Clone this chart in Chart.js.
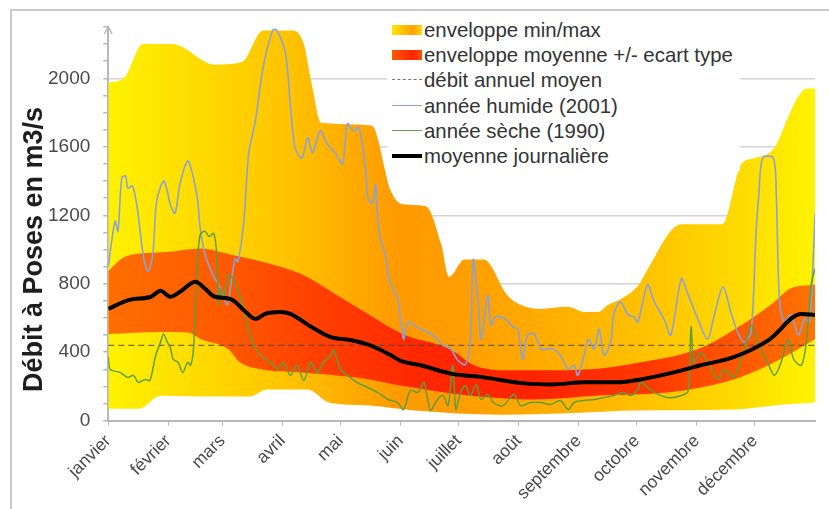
<!DOCTYPE html>
<html lang="fr">
<head>
<meta charset="utf-8">
<title>Débit à Poses</title>
<script src="https://cdn.jsdelivr.net/npm/chart.js@4.4.1/dist/chart.umd.min.js"></script>
<style>
  html, body { margin: 0; padding: 0; background: #fff; }
  #wrap { position: relative; width: 829px; height: 509px; overflow: hidden; font-family: "Liberation Sans", Arial, sans-serif; }
  #frame { position: absolute; left: 10px; top: 9px; width: 900px; height: 600px; border-left: 2px solid #cacaca; border-top: 2px solid #cacaca; }
  canvas { position: absolute; left: 0; top: 0; }
  #legend { position: absolute; left: 387px; top: 18px; width: 353px; height: 153px; background: #fff; }
  .row { position: relative; height: 25.2px; line-height: 25.2px; font-size: 20.4px; color: #333; padding-left: 37px; white-space: nowrap; }
  .sw { position: absolute; left: 5px; width: 30px; }
  .fill { top: 7px; height: 10px; }
  .line { top: 11px; height: 0; }
</style>
</head>
<body>
<div id="wrap">
  <div id="frame"></div>
  <canvas id="chart" width="829" height="509"></canvas>
  <div id="legend">
    <div class="row"><span class="sw fill" style="background: linear-gradient(to right, #ffe600, #ffa000 70%, #ffd800);"></span>enveloppe min/max</div>
    <div class="row"><span class="sw fill" style="background: linear-gradient(to right, #ff5a00, #ff2400 70%, #ff5000);"></span>enveloppe moyenne +/- ecart type</div>
    <div class="row"><span class="sw line" style="border-top: 1.5px dashed #777;"></span>débit annuel moyen</div>
    <div class="row"><span class="sw line" style="border-top: 1.5px solid #8aa2d8;"></span>année humide (2001)</div>
    <div class="row"><span class="sw line" style="border-top: 1.5px solid #6aa64a;"></span>année sèche (1990)</div>
    <div class="row"><span class="sw line" style="top: 10px; border-top: 4px solid #000;"></span>moyenne journalière</div>
  </div>
</div>
<script>
const monthNames = ['janvier', 'février', 'mars', 'avril', 'mai', 'juin', 'juillet', 'août', 'septembre', 'octobre', 'novembre', 'décembre'];
const monthStarts = [0, 31, 59, 90, 120, 151, 181, 212, 243, 273, 304, 334, 365];
const yTitle = 'Débit à Poses en m3/s';
const annualMean = 440;

// enveloppe min/max (jour de l'année -> m3/s)
const maxDays = [0, 8, 18, 33, 55, 69, 80, 95, 101, 105, 110, 136, 146, 152, 164, 172, 176, 184, 194, 206, 212, 223, 237, 246, 253, 258, 265, 274, 277, 296, 317, 327, 334, 344, 351, 356, 361, 365];
const maxVals = [1975, 2000, 2200, 2200, 2080, 2095, 2280, 2280, 2200, 1970, 1740, 1725, 1340, 1265, 1253, 1030, 841, 941, 941, 735, 682, 653, 665, 635, 635, 676, 712, 794, 853, 1147, 1147, 1500, 1535, 1594, 1770, 1888, 1941, 1941];
const minDays = [0, 16, 27, 47, 73, 82, 103, 114, 135, 158, 203, 244, 272, 323, 349, 365];
const minVals = [70, 70, 145, 141, 141, 182, 182, 106, 88, 59, 35, 47, 59, 65, 94, 106];

// moyenne +/- ecart type
const sdHighDays = [0, 9, 30, 48, 63, 89, 100, 118, 135, 152, 177, 189, 206, 223, 249, 275, 305, 325, 344, 352, 365];
const sdHighVals = [875, 959, 985, 1006, 971, 900, 855, 735, 618, 506, 415, 324, 294, 294, 300, 341, 420, 545, 694, 771, 794];
const sdLowDays = [0, 27, 41, 48, 62, 68, 79, 100, 117, 135, 151, 186, 220, 254, 289, 306, 323, 341, 365];
const sdLowVals = [506, 518, 515, 476, 418, 341, 300, 282, 265, 241, 205, 147, 124, 147, 165, 194, 241, 324, 476];

// moyenne journalière
const meanDays = [0, 11, 22, 27, 32, 37, 45, 50, 55, 63, 71, 76, 81, 89, 94, 105, 115, 125, 135, 146, 151, 161, 177, 194, 215, 229, 246, 263, 275, 292, 306, 323, 341, 358, 365];
const meanVals = [653, 706, 724, 759, 724, 753, 812, 771, 724, 712, 635, 594, 624, 635, 624, 547, 488, 471, 441, 382, 350, 325, 275, 253, 218, 212, 224, 224, 241, 282, 324, 371, 471, 624, 618];

// année humide (2001)
const wetDays = [0, 3.5, 5, 7, 9, 10, 12.5, 15, 18, 20.5, 23, 25, 28.5, 30.5, 32, 34.5, 37, 41, 43.5, 46, 47.5, 50, 54, 58, 61.5, 63, 65.5, 67, 70, 72.5, 76, 80, 85, 87, 91.5, 94, 96.5, 100, 103, 105.5, 109.5, 113, 117.5, 121, 123.5, 126.5, 129.5, 133, 134, 136.5, 138, 139, 140.5, 143, 145, 147, 149.5, 152.5, 154.5, 157.5, 161.5, 165, 170, 172, 177, 180.5, 184.5, 187, 188.5, 191, 192.5, 196, 197.5, 200, 203, 206, 209, 211.5, 214, 216.5, 220, 223.5, 227, 230, 233.5, 237.5, 240.5, 242.5, 245.5, 248, 251, 253.5, 256, 259.5, 261, 264.5, 268.5, 271.5, 273.5, 278.5, 282, 287, 290.5, 296, 299.5, 304.5, 309.5, 313, 317.5, 321.5, 325, 328.5, 332, 334.5, 336, 338, 343.5, 345, 346.5, 349, 352.5, 356.5, 359.5, 362, 364, 365];
const wetVals = [900, 1165, 1106, 1418, 1429, 1359, 1371, 1241, 971, 871, 971, 1282, 1400, 1341, 1265, 1212, 1382, 1518, 1441, 1300, 1124, 971, 853, 771, 676, 771, 947, 929, 1165, 1559, 1753, 2065, 2282, 2282, 2147, 1853, 1594, 1535, 1653, 1565, 1694, 1618, 1559, 1500, 1735, 1694, 1712, 1459, 1300, 1271, 1382, 1206, 1065, 971, 829, 771, 712, 476, 576, 559, 535, 518, 476, 447, 418, 353, 329, 459, 941, 694, 476, 735, 559, 606, 606, 588, 547, 535, 359, 500, 506, 418, 418, 418, 382, 300, 324, 265, 371, 476, 418, 535, 382, 459, 618, 694, 618, 606, 576, 794, 694, 594, 500, 829, 735, 594, 476, 618, 782, 635, 518, 459, 518, 1088, 1324, 1535, 1535, 1324, 735, 576, 618, 500, 594, 576, 929, 1206];

// année sèche (1990)
const dryDays = [0, 1, 6, 10, 13, 15.5, 19, 21.5, 24.5, 27, 28.5, 30.5, 32, 33.5, 36, 38.5, 41, 42.5, 44, 46, 47.5, 50, 52, 54.5, 56, 57, 58, 59.5, 62, 64.5, 66.5, 69.5, 72, 73.5, 75, 78.5, 82, 85, 87.5, 90.5, 94, 97.5, 101, 104.5, 108, 111, 115, 116.5, 120, 123.5, 128.5, 134, 139, 144.5, 149.5, 152.5, 156, 160, 163, 165, 166.5, 170, 173, 175.5, 178, 179.5, 182, 184.5, 187, 190, 192.5, 196, 199, 204, 209.5, 213, 218, 223.5, 228.5, 233.5, 237.5, 240.5, 245.5, 251, 256, 261, 266, 270, 273.5, 275, 282, 289, 296, 299.5, 301, 302.5, 306, 309.5, 315, 318, 323, 328.5, 332, 335.5, 340.5, 344, 347.5, 351, 354, 358, 360.5, 363, 365];
const dryVals = [371, 300, 282, 253, 265, 224, 241, 235, 382, 459, 506, 459, 429, 359, 341, 282, 341, 324, 418, 912, 1088, 1106, 1076, 1094, 971, 676, 771, 712, 853, 829, 771, 676, 535, 500, 441, 382, 353, 329, 300, 341, 265, 324, 235, 341, 282, 341, 382, 412, 300, 265, 224, 194, 165, 124, 106, 65, 176, 165, 224, 124, 59, 124, 147, 88, 324, 65, 165, 206, 147, 212, 124, 153, 106, 88, 153, 88, 106, 106, 94, 118, 65, 106, 118, 124, 135, 147, 165, 147, 182, 224, 165, 135, 147, 176, 547, 341, 400, 341, 241, 300, 253, 418, 559, 459, 341, 265, 341, 476, 359, 324, 459, 794, 888];

const pts = (days, vals) => days.map((d, i) => ({ x: d, y: vals[i] }));

function hGradient(chart, stops, fallback) {
  const area = chart.chartArea;
  if (!area) return fallback;
  const g = chart.ctx.createLinearGradient(area.left, 0, area.right, 0);
  stops.forEach(([p, c]) => g.addColorStop(p, c));
  return g;
}

const envStops = [[0, '#fff200'], [0.25, '#ffc400'], [0.41, '#ff9a00'], [0.5, '#ff9e00'], [0.6, '#ffaa00'], [0.75, '#ffc000'], [0.9, '#ffdc00'], [1, '#fff400']];
const sdStops = [[0, '#ff6e00'], [0.16, '#ff5a00'], [0.33, '#ff3a00'], [0.45, '#ff2600'], [0.6, '#ff2400'], [0.75, '#ff3600'], [0.88, '#ff5400'], [1, '#ff7400']];

const band = { pointRadius: 0, borderWidth: 0, borderColor: 'transparent', cubicInterpolationMode: 'monotone' };

// titre de l'axe y, centré sur 0-2000 comme l'original
const yTitlePlugin = {
  id: 'yTitle',
  afterDraw(chart) {
    const { ctx, scales: { y } } = chart;
    const cy = (y.getPixelForValue(0) + y.getPixelForValue(2000)) / 2;
    ctx.save();
    ctx.translate(chart.chartArea.left - 66, cy);
    ctx.rotate(-Math.PI / 2);
    ctx.font = 'bold 27px "Liberation Sans", Arial, sans-serif';
    ctx.fillStyle = '#1e1e1e';
    ctx.textAlign = 'center';
    ctx.fillText(yTitle, 0, 0);
    ctx.restore();
  }
};

// petite flèche en haut de l'axe y
const arrowPlugin = {
  id: 'yArrow',
  afterDraw(chart) {
    const { ctx, chartArea } = chart;
    ctx.save();
    ctx.strokeStyle = '#b8b8b8';
    ctx.lineWidth = 1.5;
    ctx.beginPath();
    ctx.moveTo(chartArea.left - 4, chartArea.top + 7);
    ctx.lineTo(chartArea.left, chartArea.top);
    ctx.lineTo(chartArea.left + 4, chartArea.top + 7);
    ctx.stroke();
    ctx.restore();
  }
};

new Chart(document.getElementById('chart'), {
  type: 'line',
  data: {
    datasets: [
      { ...band, label: 'max', data: pts(maxDays, maxVals), fill: '+1', order: 6,
        backgroundColor: (c) => hGradient(c.chart, envStops, '#ffc000') },
      { ...band, label: 'min', data: pts(minDays, minVals), fill: false, order: 7 },
      { ...band, label: 'moy+sd', data: pts(sdHighDays, sdHighVals), fill: '+1', order: 4,
        backgroundColor: (c) => hGradient(c.chart, sdStops, '#ff4000') },
      { ...band, label: 'moy-sd', data: pts(sdLowDays, sdLowVals), fill: false, order: 5 },
      { label: 'débit annuel moyen', data: [{ x: 0, y: annualMean }, { x: 365, y: annualMean }],
        borderColor: 'rgba(70,70,60,0.75)', borderWidth: 1.3, borderDash: [6, 4], pointRadius: 0, order: 3 },
      { label: 'année humide (2001)', data: pts(wetDays, wetVals), borderColor: '#8aa2d8', borderWidth: 1.6,
        pointRadius: 0, tension: 0.3, order: 2 },
      { label: 'année sèche (1990)', data: pts(dryDays, dryVals), borderColor: '#5f9e3c', borderWidth: 1.5,
        pointRadius: 0, tension: 0.3, order: 1 },
      { label: 'moyenne journalière', data: pts(meanDays, meanVals), borderColor: '#000', borderWidth: 4,
        pointRadius: 0, cubicInterpolationMode: 'monotone', order: 0 }
    ]
  },
  options: {
    responsive: false,
    animation: false,
    devicePixelRatio: 1,
    layout: { padding: { left: 35, right: 14, top: 27, bottom: 0 } },
    plugins: { legend: { display: false }, tooltip: { enabled: false } },
    scales: {
      x: {
        type: 'linear',
        min: 0,
        max: 365,
        afterBuildTicks: (s) => { s.ticks = monthStarts.map((v) => ({ value: v })); },
        ticks: {
          autoSkip: false,
          minRotation: 45,
          maxRotation: 45,
          padding: 5,
          color: '#4a4a4a',
          font: { family: '"Liberation Sans", Arial, sans-serif', size: 17.5 },
          // pas d'étiquette au 31 décembre
          callback: (v) => (v === 365 ? null : monthNames[monthStarts.indexOf(v)])
        },
        grid: { drawOnChartArea: false, tickLength: 5, tickColor: '#b8b8b8' },
        border: { color: '#b8b8b8', width: 2 }
      },
      y: {
        min: 0,
        max: 2300,
        ticks: {
          stepSize: 100,
          autoSkip: false,
          padding: 13,
          color: '#4a4a4a',
          font: { family: '"Liberation Sans", Arial, sans-serif', size: 19 },
          callback: (v) => (v % 400 === 0 && v <= 2000 ? String(v) : '')
        },
        grid: {
          tickLength: 5,
          tickColor: '#b8b8b8',
          color: (c) => (c.tick && c.tick.value > 0 && c.tick.value % 400 === 0 ? '#d4d4d4' : 'transparent'),
          lineWidth: 1.5
        },
        border: { color: '#b8b8b8', width: 2 }
      }
    }
  },
  plugins: [yTitlePlugin, arrowPlugin]
});
</script>
</body>
</html>
